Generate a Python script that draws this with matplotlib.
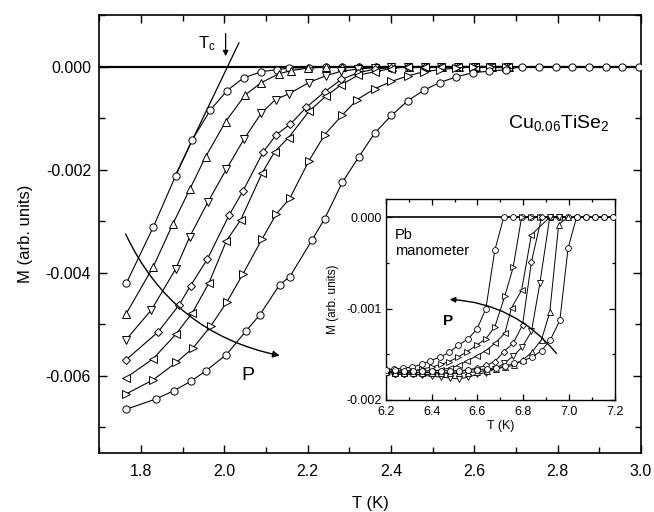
import matplotlib
matplotlib.use("Agg")
import matplotlib.pyplot as plt
from matplotlib.ticker import MultipleLocator, FormatStrFormatter

plt.rcParams['font.family'] = ['Liberation Sans', 'DejaVu Sans']
plt.rcParams['mathtext.default'] = 'regular'
plt.rcParams['axes.unicode_minus'] = False

#<======Main panel data (Cu0.06TiSe2), one list per pressure======>
t1 = [1.765, 1.829, 1.883, 1.923, 1.966, 2.006, 2.046, 2.089, 2.126, 2.155, 2.203, 2.243, 2.283, 2.323, 2.363, 2.403, 2.443, 2.483, 2.523, 2.563, 2.603, 2.643, 2.683]
m1 = [-0.0042, -0.00312, -0.00212, -0.00142, -0.00085, -0.00047, -0.00022, -0.0001, -0.00006, -0.00003, -0.00002, 0, 0, 0, 0, 0, 0, 0, 0, 0, 0, 0, 0]
t2 = [1.764, 1.829, 1.876, 1.917, 1.955, 2.003, 2.049, 2.087, 2.131, 2.160, 2.200, 2.243, 2.283, 2.323, 2.363, 2.403, 2.443, 2.483, 2.523, 2.563, 2.603, 2.643, 2.683]
m2 = [-0.0048, -0.00389, -0.00306, -0.00238, -0.00175, -0.00107, -0.00056, -0.00032, -0.00014, -0.00008, -0.00003, -0.00001, 0, 0, 0, 0, 0, 0, 0, 0, 0, 0, 0]
t3 = [1.764, 1.825, 1.883, 1.917, 1.961, 2.005, 2.047, 2.089, 2.123, 2.155, 2.203, 2.243, 2.281, 2.321, 2.361, 2.401, 2.441, 2.481, 2.521, 2.561, 2.601, 2.641, 2.681]
m3 = [-0.0053, -0.00472, -0.00393, -0.0033, -0.00262, -0.00199, -0.00141, -0.0009, -0.00064, -0.00053, -0.00031, -0.00018, -0.00009, -0.00005, -0.00002, 0, 0, 0, 0, 0, 0, 0, 0]
t4 = [1.764, 1.841, 1.891, 1.919, 1.959, 2.011, 2.045, 2.093, 2.125, 2.158, 2.197, 2.241, 2.281, 2.321, 2.361, 2.401, 2.441, 2.481, 2.521, 2.561, 2.601, 2.641, 2.681]
m4 = [-0.00569, -0.00515, -0.00463, -0.00425, -0.00374, -0.00289, -0.00241, -0.00166, -0.00132, -0.00112, -0.00079, -0.00049, -0.00025, -0.00012, -0.00005, -0.00002, 0, 0, 0, 0, 0, 0, 0]
t5 = [1.764, 1.829, 1.883, 1.923, 1.963, 2.005, 2.039, 2.091, 2.121, 2.154, 2.203, 2.243, 2.281, 2.321, 2.361, 2.401, 2.441, 2.481, 2.521, 2.561, 2.601, 2.641, 2.681]
m5 = [-0.00604, -0.00567, -0.0052, -0.00478, -0.0042, -0.00338, -0.00298, -0.00206, -0.00165, -0.00138, -0.00087, -0.00058, -0.00035, -0.00017, -0.0001, -0.00004, 0, 0, 0, 0, 0, 0, 0]
t6 = [1.765, 1.829, 1.885, 1.925, 1.967, 2.006, 2.045, 2.091, 2.125, 2.157, 2.203, 2.241, 2.282, 2.319, 2.361, 2.401, 2.441, 2.479, 2.517, 2.557, 2.597, 2.637, 2.677]
m6 = [-0.00635, -0.00608, -0.00574, -0.00546, -0.00504, -0.00457, -0.00402, -0.00334, -0.00286, -0.00256, -0.00183, -0.00132, -0.00095, -0.00064, -0.00043, -0.00029, -0.00018, -0.0001, -0.00006, -0.00003, 0, 0, 0]
t7 = [1.765, 1.836, 1.879, 1.919, 1.955, 2.005, 2.051, 2.085, 2.133, 2.157, 2.211, 2.241, 2.283, 2.323, 2.361, 2.401, 2.441, 2.479, 2.517, 2.557, 2.596, 2.636, 2.676, 2.715, 2.755, 2.795, 2.835, 2.876, 2.915, 2.955, 2.995]
m7 = [-0.00665, -0.00645, -0.00629, -0.00611, -0.00591, -0.00559, -0.00514, -0.00482, -0.00423, -0.00408, -0.00336, -0.00295, -0.00225, -0.00175, -0.00129, -0.00095, -0.00066, -0.00046, -0.00031, -0.0002, -0.00012, -0.00009, -0.00006, 0, 0, 0, 0, 0, 0, 0, 0]

main_T = [t1, t2, t3, t4, t5, t6, t7]
main_M = [m1, m2, m3, m4, m5, m6, m7]
main_markers = ['o', '^', 'v', 'D', '<', '>', 'o']

# tangent used to define Tc
tc_line_T = [1.885, 2.035]
tc_line_M = [-0.00207, 0.00046]

#<======Inset data (Pb manometer)======>
ta = [6.2, 6.235, 6.276, 6.316, 6.356, 6.395, 6.436, 6.477, 6.516, 6.56, 6.599, 6.637, 6.676, 6.715, 6.755, 6.795, 6.835, 6.875, 6.915, 6.955, 6.995, 7.035, 7.075, 7.115, 7.155, 7.195]
ma = [-0.00167, -0.00166, -0.00165, -0.00164, -0.00161, -0.00157, -0.00153, -0.00148, -0.0014, -0.00133, -0.00122, -0.001, -0.00036, 0, 0, 0, 0, 0, 0, 0, 0, 0, 0, 0, 0, 0]
tb = [6.2, 6.24, 6.28, 6.32, 6.36, 6.4, 6.44, 6.476, 6.516, 6.555, 6.596, 6.637, 6.676, 6.72, 6.756, 6.793, 6.833, 6.873]
mb = [-0.00169, -0.0017, -0.00169, -0.00168, -0.00166, -0.00164, -0.00161, -0.00158, -0.00153, -0.00147, -0.0014, -0.00133, -0.0012, -0.00086, -0.00055, 0, 0, 0]
tcc = [6.2, 6.24, 6.28, 6.32, 6.36, 6.4, 6.44, 6.48, 6.52, 6.556, 6.596, 6.637, 6.676, 6.72, 6.749, 6.793, 6.836, 6.916, 6.956]
mcc = [-0.00168, -0.00169, -0.0017, -0.0017, -0.0017, -0.00169, -0.00167, -0.00165, -0.00162, -0.00157, -0.00152, -0.00146, -0.00138, -0.00127, -0.00099, -0.0008, -0.00019, 0, 0]
td = [6.2, 6.24, 6.28, 6.32, 6.36, 6.4, 6.44, 6.48, 6.52, 6.56, 6.6, 6.638, 6.676, 6.715, 6.756, 6.797, 6.836, 6.88, 6.92]
md = [-0.00171, -0.00172, -0.00172, -0.00172, -0.00172, -0.00172, -0.00171, -0.0017, -0.00169, -0.00167, -0.00165, -0.00162, -0.00158, -0.00147, -0.00138, -0.00118, -0.00049, 0, 0]
te = [6.2, 6.24, 6.28, 6.32, 6.36, 6.4, 6.44, 6.48, 6.52, 6.56, 6.6, 6.638, 6.676, 6.716, 6.756, 6.796, 6.836, 6.873, 6.916, 6.956]
me = [-0.0017, -0.0017, -0.00171, -0.00172, -0.00173, -0.00174, -0.00175, -0.00176, -0.00177, -0.00175, -0.00172, -0.0017, -0.00166, -0.0016, -0.00152, -0.00142, -0.00125, -0.00072, 0, 0]
tf = [6.2, 6.24, 6.28, 6.32, 6.36, 6.4, 6.44, 6.48, 6.52, 6.56, 6.6, 6.64, 6.68, 6.72, 6.76, 6.8, 6.84, 6.88, 6.916, 6.955, 6.995]
mf = [-0.00169, -0.0017, -0.0017, -0.0017, -0.0017, -0.0017, -0.0017, -0.00171, -0.00171, -0.0017, -0.00169, -0.00168, -0.00166, -0.00164, -0.00162, -0.00156, -0.00147, -0.00134, -0.00104, -0.00008, 0]
tg = [6.2, 6.24, 6.28, 6.32, 6.36, 6.4, 6.44, 6.48, 6.52, 6.56, 6.6, 6.64, 6.68, 6.72, 6.76, 6.8, 6.84, 6.88, 6.919, 6.96, 6.996, 7.033, 7.073, 7.113, 7.153, 7.193]
mg = [-0.00167, -0.00167, -0.00168, -0.00168, -0.00168, -0.00168, -0.00168, -0.00168, -0.00168, -0.00167, -0.00167, -0.00166, -0.00165, -0.00163, -0.0016, -0.00157, -0.00153, -0.00146, -0.00134, -0.00113, -0.00034, 0, 0, 0, 0, 0]

ins_T = [ta, tb, tcc, td, te, tf, tg]
ins_M = [ma, mb, mcc, md, me, mf, mg]
ins_markers = ['o', '>', '<', 'D', 'v', '^', 'o']

#<======Figure======>
fig = plt.figure(figsize=(6.54, 5.12), dpi=100)
ax = fig.add_axes([0.152, 0.1152, 0.828, 0.8555])

ax.axhline(0, color='k', lw=1.6, zorder=1)
for T, M, mk in zip(main_T, main_M, main_markers):
    ms = 4.2 if mk == 'D' else 5.2
    ax.plot(T, M, marker=mk, color='k', lw=0.8, ms=ms, mfc='white', mec='k', mew=0.7, zorder=3)

ax.plot(tc_line_T, tc_line_M, color='k', lw=0.9, zorder=2)
ax.text(1.957, 0.00045, 'T$_c$', fontsize=12, ha='center', va='center')
ax.annotate('', xy=(2.003, 0.0002), xytext=(2.003, 0.00064),
            arrowprops=dict(arrowstyle='-|>', color='k', lw=0.9, mutation_scale=8, shrinkA=0, shrinkB=0))

ax.annotate('', xy=(2.133, -0.00561), xytext=(1.763, -0.00325),
            arrowprops=dict(arrowstyle='-|>', color='k', lw=1.0, mutation_scale=10,
                            connectionstyle='arc3,rad=0.25', shrinkA=0, shrinkB=0))
ax.text(2.057, -0.006, 'P', fontsize=14, ha='center', va='center')
ax.text(2.68, -0.0011, 'Cu$_{0.06}$TiSe$_2$', fontsize=14, ha='left', va='center')

ax.set_xlim(1.7, 3.0)
ax.set_ylim(-0.0075, 0.001)
ax.xaxis.set_major_locator(MultipleLocator(0.2))
ax.xaxis.set_minor_locator(MultipleLocator(0.1))
ax.yaxis.set_major_locator(MultipleLocator(0.002))
ax.yaxis.set_minor_locator(MultipleLocator(0.001))
ax.xaxis.set_major_formatter(FormatStrFormatter('%.1f'))
ax.yaxis.set_major_formatter(FormatStrFormatter('%.3f'))
ax.tick_params(which='both', direction='in', top=True, right=True, labelsize=11.5, width=1.0)
ax.tick_params(which='major', length=6)
ax.tick_params(which='minor', length=4)
ax.tick_params(axis='x', which='major', pad=8)
ax.tick_params(axis='y', which='major', pad=6)
for s in ax.spines.values():
    s.set_linewidth(1.2)
ax.set_xlabel('T (K)', fontsize=12, labelpad=12)
ax.set_ylabel('M (arb. units)', fontsize=12, labelpad=9)

#<======Inset======>
ins = fig.add_axes([0.590, 0.2188, 0.350, 0.3926])
ins.axhline(0, color='k', lw=1.2, zorder=1)
for T, M, mk in zip(ins_T, ins_M, ins_markers):
    ms = 3.3 if mk == 'D' else 4.2
    ins.plot(T, M, marker=mk, color='k', lw=0.7, ms=ms, mfc='white', mec='k', mew=0.6, zorder=3)

ins.annotate('', xy=(6.479, -0.0009), xytext=(6.945, -0.00149),
             arrowprops=dict(arrowstyle='-|>', color='k', lw=1.0, mutation_scale=8,
                             connectionstyle='arc3,rad=0.22', shrinkA=0, shrinkB=0))
ins.text(6.472, -0.00114, 'P', fontsize=11, fontweight='bold', ha='center', va='center')
ins.text(6.24, -0.00012, 'Pb\nmanometer', fontsize=10.5, ha='left', va='top', linespacing=1.2)

ins.set_xlim(6.2, 7.2)
ins.set_ylim(-0.002, 0.0002)
ins.xaxis.set_major_locator(MultipleLocator(0.2))
ins.xaxis.set_minor_locator(MultipleLocator(0.1))
ins.yaxis.set_major_locator(MultipleLocator(0.001))
ins.yaxis.set_minor_locator(MultipleLocator(0.0005))
ins.xaxis.set_major_formatter(FormatStrFormatter('%.1f'))
ins.yaxis.set_major_formatter(FormatStrFormatter('%.3f'))
ins.tick_params(which='both', direction='in', top=True, right=True, labelsize=9, width=0.9)
ins.tick_params(which='major', length=4)
ins.tick_params(which='minor', length=2.5)
ins.tick_params(axis='x', which='major', pad=4)
ins.tick_params(axis='y', which='major', pad=3)
for s in ins.spines.values():
    s.set_linewidth(1.0)
ins.set_xlabel('T (K)', fontsize=9, labelpad=2)
ins.set_ylabel('M (arb. units)', fontsize=8.5, labelpad=5)

fig.savefig('out.png', dpi=100)
